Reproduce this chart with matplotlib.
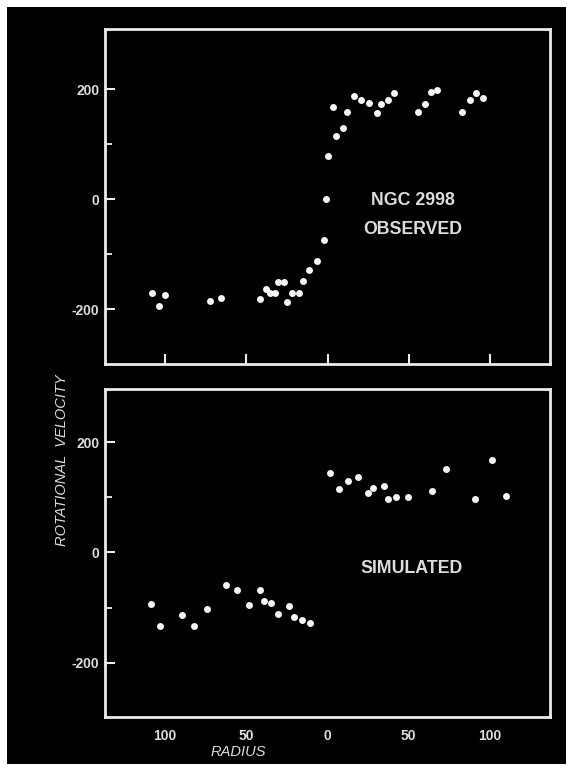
import matplotlib
matplotlib.use("Agg")
import matplotlib.pyplot as plt
from matplotlib.patches import Rectangle

# ---- data ----
obs_radius = [-108, -103.6, -100, -72.4, -65.7, -41.5, -38.1, -35.6, -32.5, -30.7,
              -26.9, -24.9, -22, -17.3, -15, -11.2, -6.7, -2.2, -0.9, 0.2,
              3.4, 5.4, 9.4, 12.1, 16.1, 20.8, 25.3, 30.3, 33.2, 37,
              41.2, 55.6, 60.3, 63.7, 67.5, 82.9, 87.9, 91.5, 95.9]
obs_velocity = [-171, -194, -174, -186, -180, -181, -163, -170, -170, -150,
                -150, -187, -170, -171, -149, -128, -113, -75, 0, 79,
                168, 115, 130, 159, 188, 181, 176, 157, 173, 180,
                194, 158, 173, 196, 199, 158, 181, 194, 185]

sim_radius = [-108.7, -103.1, -89.7, -82, -74.2, -62.3, -55.8, -48.4, -41.5, -39,
              -34.7, -30.5, -23.8, -20.8, -15.9, -11,
              1.6, 6.9, 12.6, 19, 24.9, 27.8, 34.5, 37.4, 42.1, 49.5,
              64.3, 72.9, 90.8, 101.5, 110]
sim_velocity = [-93, -134, -114, -134, -103, -59, -68, -96, -68, -88,
                -91, -111, -97, -116, -122, -128,
                143, 114, 130, 136, 108, 117, 121, 97, 100, 100,
                111, 152, 97, 168, 102]

xticks = [-100, -50, 0, 50, 100]
xticklabels = ["100", "50", "0", "50", "100"]
yticks = [-200, 0, 200]
yticklabels = ["-200", "0", "200"]
yminor = [-100, 100]

W, H = 573, 771
fig = plt.figure(figsize=(W / 100, H / 100), dpi=100, facecolor="white")
fig.patches.append(Rectangle((7 / W, 7 / H), (566 - 7) / W, (764 - 7) / H,
                             transform=fig.transFigure, facecolor="black",
                             edgecolor="none", zorder=-10))

FG = "#ececec"
TXT = "#dcdcdc"
num_font = dict(family="Liberation Sans", weight="bold", size=10, color=TXT)

def make_ax(top_px, bot_px, ylim):
    ax = fig.add_axes([105 / W, 1 - bot_px / H, (550 - 105) / W, (bot_px - top_px) / H])
    ax.set_facecolor("black")
    for s in ax.spines.values():
        s.set_color(FG)
        s.set_linewidth(2.0)
    ax.set_xlim(-137, 137)
    ax.set_ylim(*ylim)
    ax.set_yticks(yticks)
    ax.set_yticklabels(yticklabels, fontdict=num_font)
    ax.set_yticks(yminor, minor=True)
    ax.tick_params(axis="y", which="major", direction="in", length=7, width=1.5,
                   color=FG, pad=4, left=True, right=False)
    ax.tick_params(axis="y", which="minor", direction="in", length=5, width=1.3,
                   color=FG, left=True, right=False)
    ax.set_xticks(xticks)
    return ax

ax1 = make_ax(29, 364, (-300, 310))
ax1.set_xticklabels([])
ax1.tick_params(axis="x", direction="in", length=7, width=1.5, color=FG)
ax1.plot(obs_radius, obs_velocity, "o", color="#f6f6f6", markersize=5,
         markeredgewidth=0, linestyle="none")
ax1.text(52.5, -2, "NGC 2998", ha="center", va="center", family="Liberation Sans",
         weight="bold", size=12.8, color=TXT)
ax1.text(52.5, -55, "OBSERVED", ha="center", va="center", family="Liberation Sans",
         weight="bold", size=12.8, color=TXT)

ax2 = make_ax(389, 717, (-298, 296))
ax2.set_xticklabels(xticklabels, fontdict=num_font)
ax2.tick_params(axis="x", direction="in", length=0, pad=9, color=FG)
ax2.plot(sim_radius, sim_velocity, "o", color="#f6f6f6", markersize=5,
         markeredgewidth=0, linestyle="none")
ax2.text(51.5, -29, "SIMULATED", ha="center", va="center", family="Liberation Sans",
         weight="bold", size=12.8, color=TXT)

fig.text(238.5 / W, 1 - 752 / H, "RADIUS", ha="center", va="center",
         family="Liberation Sans", style="italic", size=10.5, color=TXT)
fig.text(62 / W, 1 - 460 / H, "ROTATIONAL  VELOCITY", ha="center", va="center",
         rotation=90, family="Liberation Sans", style="italic", size=10.5, color=TXT)

fig.savefig("out.png", dpi=100, facecolor="white")
